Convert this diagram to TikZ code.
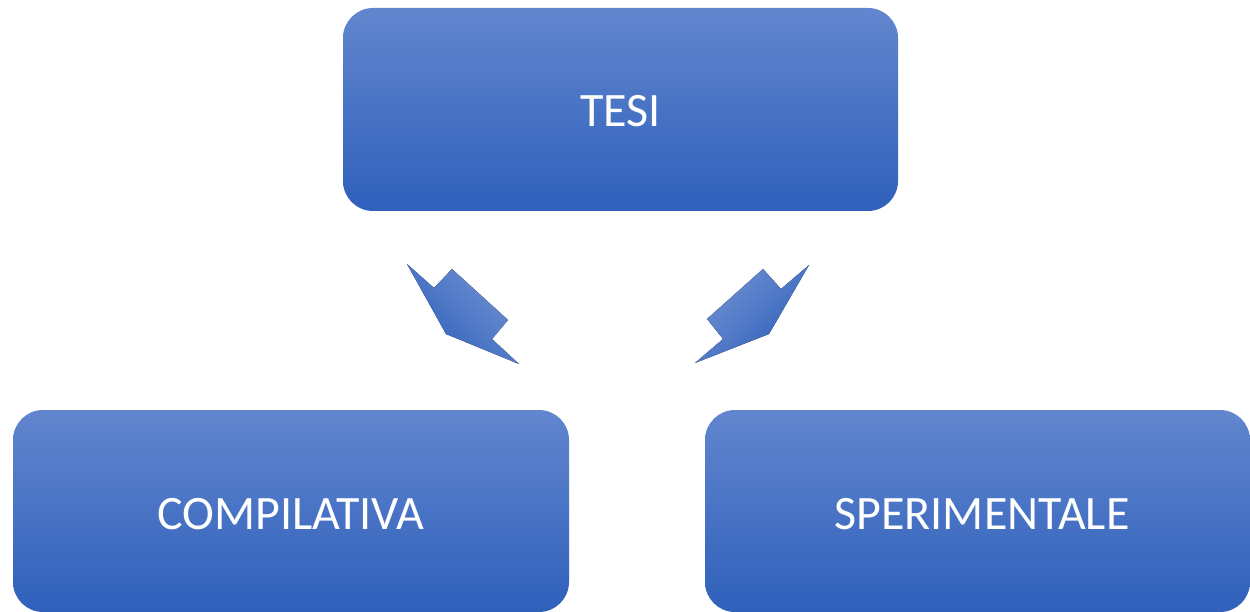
\documentclass[tikz,border=0pt]{standalone}
\usepackage{fontspec}
\setmainfont{Carlito}
\definecolor{topblue}{RGB}{98,134,206}
\definecolor{botblue}{RGB}{47,96,187}
\tikzset{
  box/.style={rounded corners=30pt, top color=topblue, bottom color=botblue, draw=none},
  label/.style={text=white, font=\fontsize{48}{52}\selectfont, inner sep=0pt},
  arrowshape/.style={draw=none, shading=axis, top color=topblue!90!white, bottom color=botblue}
}
\begin{document}
\begin{tikzpicture}[x=1pt,y=-1pt]
\useasboundingbox (0,0) rectangle (1250,612);
\path[box] (343,8) rectangle (898,211);
\node[label] (tesi) at (620.5,111) {TESI};
\path[box] (13,410) rectangle (569,612);
\node[label] (comp) at (291,514) {COMPILATIVA};
\path[box] (705,410) rectangle (1250,612);
\node[label] (sper) at (982,514) {SPERIMENTALE};
\fill[arrowshape, shading angle=-45] (407,264) -- (434,288) -- (452,269) -- (508,320) -- (492,339) -- (519,364) -- (446,334) -- cycle;
\fill[arrowshape, shading angle=45] (809,265) -- (781,289) -- (763,269) -- (707,319) -- (723,339) -- (695,363) -- (769,334) -- cycle;
\end{tikzpicture}
\end{document}
